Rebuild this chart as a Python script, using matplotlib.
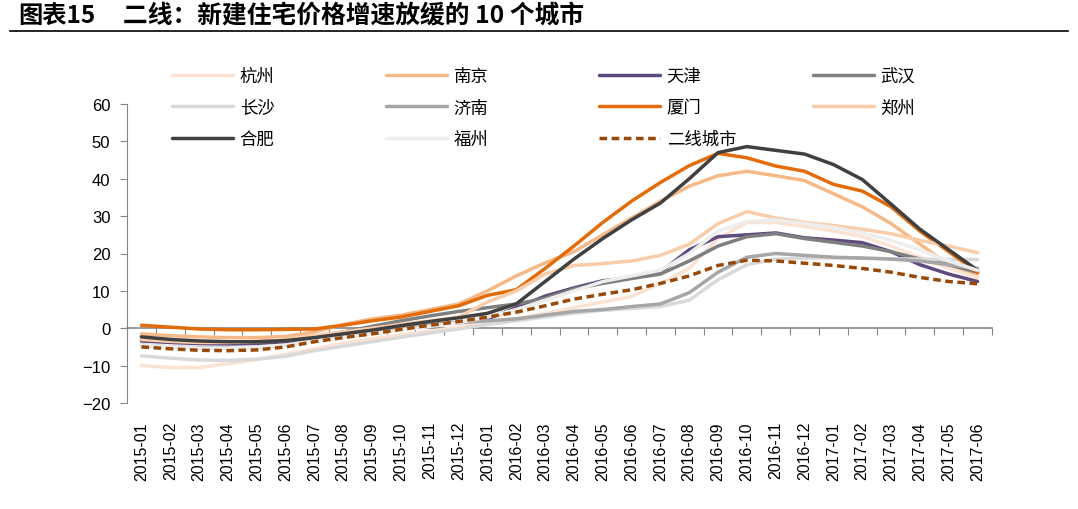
import numpy as np
import matplotlib
matplotlib.use("Agg")
import matplotlib.pyplot as plt

plt.rcParams['font.family'] = ['Noto Sans CJK SC', 'DejaVu Sans']

# months 2015-01 .. 2017-06
months = ['2015-%02d' % m for m in range(1, 13)] + ['2016-%02d' % m for m in range(1, 13)] \
    + ['2017-%02d' % m for m in range(1, 7)]

hangzhou = [-10, -10.5, -10.5, -9.5, -8.3, -7, -5.5, -4, -2.8, -1.8, -0.8, 0.3, 1.5, 2.5, 4, 5.5,
            7, 8.5, 12, 16, 24, 28.3, 28.3, 27.2, 26, 24.5, 22, 19, 16, 13.5]
nanjing = [-1.5, -2, -2.3, -2.5, -2.5, -2.2, -1, 1, 2.5, 3.5, 5, 6.5, 10, 14, 17.5, 20.5, 25, 29.5,
           34, 38, 40.8, 42, 40.8, 39.5, 36, 32.5, 28, 22.5, 17, 14.5]
tianjin = [-3.4, -3.8, -4.1, -4.2, -4.1, -3.8, -3, -2, -1, 0, 0.8, 1.5, 2.5, 5.5, 8.6, 10.8, 12.7,
           13.5, 15, 21, 24.5, 25, 25.5, 24.2, 23.6, 22.9, 20.5, 17, 14.5, 12.5]
wuhan = [-3, -3.4, -3.7, -3.8, -3.7, -3.3, -2.3, -1, 0.5, 2, 3.3, 4.5, 5.5, 6.5, 8, 10.5, 12,
         13.3, 14.5, 18, 22, 24.5, 25.3, 24, 23, 22, 20.5, 18.5, 17, 15]
changsha = [-7.4, -8, -8.5, -8.6, -8.3, -7.5, -6, -4.8, -3.6, -2.4, -1.3, -0.2, 1, 2, 3, 4, 4.8,
            5.3, 5.8, 7.5, 13, 17, 18.5, 18.8, 18.8, 18.7, 18.6, 18.5, 18.4, 18.4]
jinan = [-4.5, -5, -5.2, -5.2, -5, -4.5, -3.2, -2, -1, 0, 1, 1.5, 2, 2.5, 3.5, 4.5, 5, 5.8, 6.5,
         9.5, 15, 19, 20, 19.5, 19, 18.8, 18.5, 18, 17, 16]
xiamen = [0.8, 0.3, -0.2, -0.4, -0.4, -0.3, -0.2, 0.8, 2, 3, 4.5, 6, 8.8, 10.3, 16, 22, 28.3, 34,
          39, 43.5, 46.8, 45.6, 43.4, 42, 38.5, 36.7, 32.5, 26, 20.5, 15]
zhengzhou = [-3, -3.5, -3.8, -3.8, -3.5, -3, -2, -1, 0, 1, 2, 3, 7, 10, 14.5, 16.8, 17.3, 18,
             19.5, 22.5, 28, 31.2, 29.5, 28.3, 27.5, 26.5, 25.3, 23.5, 22, 20.2]
hefei = [-2.3, -3, -3.4, -3.6, -3.6, -3.3, -2.5, -1.5, -0.5, 0.7, 1.8, 2.8, 4, 6.5, 12.5, 18.5,
         24, 29, 33.5, 40, 47, 48.6, 47.6, 46.6, 43.8, 39.8, 33.2, 26.5, 21, 15.5]
fuzhou = [-4.5, -5, -5.3, -5.3, -5, -4.5, -3.5, -2.5, -1.5, -0.5, 0.5, 1.5, 3, 5, 7.5, 10, 12.5,
          14, 15.5, 20, 26, 28.5, 29, 28, 27, 25.5, 23.5, 21, 18, 15.5]
tier2 = [-5, -5.5, -5.9, -6, -5.8, -5, -3.6, -2.5, -1.5, -0.3, 0.8, 1.8, 3, 4.3, 6, 7.8, 9.1,
         10.3, 12, 14, 16.8, 18.2, 18, 17.4, 16.8, 16, 15, 13.6, 12.5, 11.9]

names = ['杭州', '南京', '天津', '武汉', '长沙', '济南', '厦门', '郑州', '合肥', '福州', '二线城市']
series = [hangzhou, nanjing, tianjin, wuhan, changsha, jinan, xiamen, zhengzhou, hefei, fuzhou, tier2]
colors = ['#FBE3D3', '#F5B887', '#5E4A7E', '#7F7F7F', '#D9D9D9', '#A6A6A6', '#E36C0A',
          '#F9CDAA', '#404040', '#EDEDED', '#984807']

W, H = 1078, 510
fig = plt.figure(figsize=(W / 100, H / 100), dpi=100)
ax = fig.add_axes([127 / W, (H - 404) / H, 865 / W, 299 / H])

x = np.arange(len(months))
lines = {}
for name, vals, c in zip(names, series, colors):
    if name == '二线城市':
        ln, = ax.plot(x, vals, color=c, lw=2.5, ls=(0, (2.2, 1.3)), dash_capstyle='butt')
    else:
        ln, = ax.plot(x, vals, color=c, lw=2.5, solid_joinstyle='round', solid_capstyle='round')
    lines[name] = ln

gray = '#868686'
ax.set_xlim(-0.5, len(months) - 0.5)
ax.set_ylim(-20, 60)
ax.set_yticks(np.arange(-20, 61, 10))
ax.tick_params(axis='y', length=5, color=gray, pad=7, labelsize=12)
for lab in ax.get_yticklabels():
    lab.set_fontfamily('Liberation Sans')
for s in ['top', 'right', 'bottom']:
    ax.spines[s].set_visible(False)
ax.spines['left'].set_color(gray)

# category labels at the bottom
ax.set_xticks(x)
ax.set_xticklabels(months, rotation=90, fontsize=11.5, fontfamily='Liberation Sans')
ax.tick_params(axis='x', length=0, pad=13)

# axis line through zero with boundary ticks
sec = ax.secondary_xaxis(0, transform=ax.transData)
sec.set_xticks(np.arange(-0.5, len(months), 1))
sec.tick_params(length=5, color=gray, labelbottom=False)
sec.spines['bottom'].set_color(gray)
sec.spines['bottom'].set_linewidth(1.2)

# legend, 4 columns placed separately
cols = [['杭州', '长沙', '合肥'], ['南京', '济南', '福州'], ['天津', '厦门', '二线城市'], ['武汉', '郑州']]
col_x = [172, 386, 599, 813]
for xs, names_col in zip(col_x, cols):
    fig.legend([lines[n] for n in names_col], names_col, loc='upper left',
               bbox_to_anchor=(xs / W, 1 - 68 / H), frameon=False, fontsize=12.5,
               handlelength=3.5, handletextpad=0.4, borderpad=0, borderaxespad=0,
               labelspacing=0.78)

fig.text(18 / W, 1 - 16 / H, '图表15', fontsize=17.5, fontweight='bold', va='center', ha='left')
fig.text(123 / W, 1 - 16 / H, '二线：新建住宅价格增速放缓的 10 个城市', fontsize=17.8,
         fontweight='bold', va='center', ha='left')
fig.add_artist(plt.Line2D([10 / W, 1068 / W], [1 - 32 / H, 1 - 32 / H], color='black', lw=1.2,
                          transform=fig.transFigure))

fig.savefig('out.png', dpi=100)
